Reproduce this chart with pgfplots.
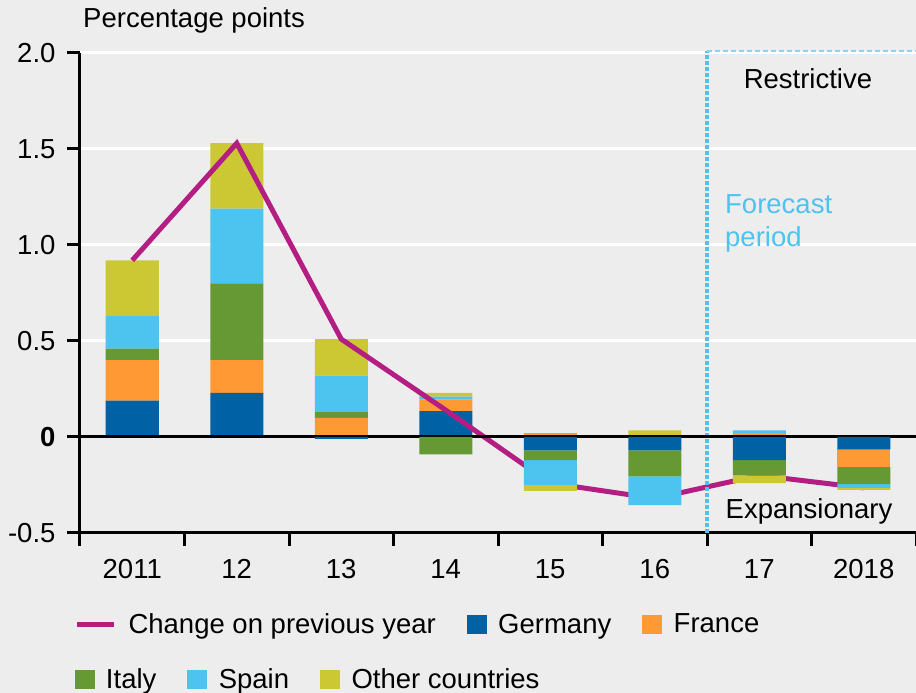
\documentclass[border=0pt]{standalone}
\usepackage{fontspec}
\setmainfont{Liberation Sans}
\usepackage{pgfplots}
\usepackage{pgfplotstable}
\pgfplotsset{compat=1.18}

\definecolor{bg}{HTML}{EDEDED}
\definecolor{cG}{HTML}{0062A4}
\definecolor{cF}{HTML}{FF9933}
\definecolor{cI}{HTML}{669933}
\definecolor{cS}{HTML}{4DC3F0}
\definecolor{cO}{HTML}{CCC833}
\definecolor{cL}{HTML}{B41E82}
\definecolor{cD}{HTML}{8AD3F0}

\newcommand{\fs}{\fontsize{27.5}{33}\selectfont}
\newcommand{\sqimg}[1]{\addlegendimage{legend image code/.code={\fill[#1] (0pt,-9pt) rectangle (19pt,9pt);}}}

% contributions by country (percentage points) and total change
\pgfplotstableread{
x G F I S O L
0 0.19 0.21 0.06 0.17 0.29 0.92
1 0.23 0.17 0.40 0.39 0.34 1.53
2 -0.01 0.10 0.03 0.19 0.19 0.51
3 0.135 0.06 -0.09 0.015 0.02 0.14
4 -0.07 0.02 -0.05 -0.13 -0.03 -0.24
5 -0.07 0.00 -0.135 -0.15 0.035 -0.32
6 -0.12 0.02 -0.08 0.015 -0.04 -0.20
7 -0.065 -0.09 -0.09 -0.02 -0.01 -0.265
}\data

\pgfplotsset{
  base/.style={scale only axis, width=836pt, height=480pt,
    at={(80pt,160pt)}, anchor=south west,
    xmin=-0.5, xmax=7.5, ymin=-0.5, ymax=2, clip=false,
    ybar stacked, bar width=53pt,
    legend style={draw=none, fill=none, inner sep=0pt, outer sep=0pt,
      legend columns=-1, font=\fs, anchor=west,
      /tikz/every odd column/.append style={column sep=10pt},
      /tikz/every even column/.append style={column sep=29pt}},
    legend cell align=left},
}

\begin{document}
\begin{tikzpicture}[font=\fs]
\useasboundingbox (0,0) rectangle (916pt,693pt);
\fill[bg] (0,0) rectangle (916pt,693pt);
\begin{axis}[base,
  axis x line*=bottom, axis y line*=left,
  axis line style={line width=3pt, black, -},
  tick style={black, line width=3pt},
  tick align=outside, major tick length=13pt,
  xtick={-0.5,0.5,...,7.5}, x tick label as interval,
  xticklabels={2011,12,13,14,15,16,17,2018},
  xticklabel style={yshift=-10pt},
  ytick={0.5,1,1.5,2}, yticklabels={0.5,1.0,1.5,2.0},
  extra y ticks={-0.5,0}, extra y tick labels={-0.5,\textbf{0}},
  extra y tick style={grid=none},
  yticklabel style={xshift=-8pt},
  ymajorgrids, grid style={white, line width=3pt},
  tick label style={font=\fs},
  /pgf/number format/assume math mode=true,
  legend style={at={(axis description cs:-0.0065,-0.19)}},
]
\addplot[fill=cG, draw=none, forget plot] table[x=x, y expr={max(\thisrow{G},0)}]{\data};
\addplot[fill=cF, draw=none, forget plot] table[x=x, y expr={max(\thisrow{F},0)}]{\data};
\addplot[fill=cI, draw=none, forget plot] table[x=x, y expr={max(\thisrow{I},0)}]{\data};
\addplot[fill=cS, draw=none, forget plot] table[x=x, y expr={max(\thisrow{S},0)}]{\data};
\addplot[fill=cO, draw=none, forget plot] table[x=x, y expr={max(\thisrow{O},0)}]{\data};
\addlegendimage{legend image code/.code={\draw[cL,line width=5pt] (0pt,0pt) -- (37pt,0pt);}}
\addlegendentry{Change on previous year}
\sqimg{cG}\addlegendentry{Germany}
\sqimg{cF}\addlegendentry{France}
\end{axis}
\begin{axis}[base, hide axis,
  legend style={at={(axis description cs:-0.0065,-0.305)}},
]
\addplot[fill=cG, draw=none, forget plot] table[x=x, y expr={min(\thisrow{G},0)}]{\data};
\addplot[fill=cF, draw=none, forget plot] table[x=x, y expr={min(\thisrow{F},0)}]{\data};
\addplot[fill=cI, draw=none, forget plot] table[x=x, y expr={min(\thisrow{I},0)}]{\data};
\addplot[fill=cS, draw=none, forget plot] table[x=x, y expr={min(\thisrow{S},0)}]{\data};
\addplot[fill=cO, draw=none, forget plot] table[x=x, y expr={min(\thisrow{O},0)}]{\data};
\draw[black, line width=3pt] (axis cs:-0.5,0) -- (axis cs:7.5,0);
\draw[cD, line width=1.5pt, dash pattern=on 5pt off 3pt] (axis cs:5.5,2.01) -- (axis cs:7.5,2.01);
\draw[cS, line width=3.5pt, dash pattern=on 3.5pt off 2.5pt] (axis cs:5.5,-0.5) -- (axis cs:5.5,2.01);
\addplot[stack plots=false, sharp plot, no marks, cL, line width=5pt, forget plot] table[x=x, y=L]{\data};
\node[inner sep=0pt] at (axis cs:6.466,1.865) {Restrictive};
\node[inner sep=0pt] at (axis cs:6.476,-0.39) {Expansionary};
\node[inner sep=0pt, anchor=west, align=left, text=cS] at (axis cs:5.672,1.11) {Forecast\\period};
\node[inner sep=0pt, anchor=west] at (axis cs:-0.471,2.172) {Percentage points};
\sqimg{cI}\addlegendentry{Italy}
\sqimg{cS}\addlegendentry{Spain}
\sqimg{cO}\addlegendentry{Other countries}
\end{axis}
\end{tikzpicture}
\end{document}
